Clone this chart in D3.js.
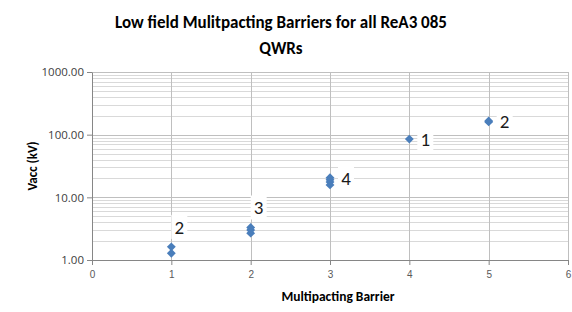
<!DOCTYPE html>
<html>
<head>
<meta charset="utf-8">
<script src="https://cdn.jsdelivr.net/npm/d3@7"></script>
<style>
  body { margin: 0; background: #fff; }
  svg { display: block; font-family: Carlito, Lato, "Open Sans", sans-serif; }
  .grid line { stroke: #d9d9d9; stroke-width: 1; }
  .grid line.major { stroke: #bfbfbf; }
  .axis path, .axis line { stroke: #868686; }
  .axis text { fill: #404040; }
  .x-axis text { font-size: 10px; fill: #595959; }
  .y-axis text { font-size: 12px; font-family: "Open Sans", sans-serif; font-size: 11.5px; }
</style>
</head>
<body>
<svg id="chart" width="572" height="312"></svg>
<script>
// Data
const barrier = [1, 1, 2, 2, 2, 3, 3, 3, 3, 4, 5, 5];
const vacc = [1.28, 1.62, 2.68, 3.0, 3.3, 15.8, 17.5, 19.0, 20.6, 85, 160, 165];
const labelBarrier = [1, 2, 3, 4, 5];
const labelCount = ['2', '3', '4', '1', '2'];
const labelPos = ['above', 'above', 'right', 'right', 'right'];
const xTicks = [0, 1, 2, 3, 4, 5, 6];
const yTicks = [1, 10, 100, 1000];

const svg = d3.select('#chart');
const margin = { top: 72, right: 4, bottom: 52, left: 92 };
const width = 572 - margin.left - margin.right,
    height = 312 - margin.top - margin.bottom;

const x = d3.scaleLinear().domain([0, 6]).range([0, width]);
const y = d3.scaleLog().domain([1, 1000]).range([height, 0]);

const g = svg.append('g').attr('transform', 'translate(' + margin.left + ',' + margin.top + ')');

// Minor horizontal grid
const minor = [];
[1, 10, 100].forEach(d => { for (let k = 2; k <= 9; k++) minor.push(d * k); });
const grid = g.append('g').attr('class', 'grid');
grid.selectAll('line.minor').data(minor).enter().append('line')
    .attr('class', 'minor')
    .attr('x1', 0).attr('x2', width)
    .attr('y1', d => Math.round(y(d)) + 0.5).attr('y2', d => Math.round(y(d)) + 0.5);
grid.selectAll('line.hmajor').data(yTicks.slice(1)).enter().append('line')
    .attr('class', 'major hmajor')
    .attr('x1', 0).attr('x2', width)
    .attr('y1', d => Math.round(y(d)) + 0.5).attr('y2', d => Math.round(y(d)) + 0.5);
grid.selectAll('line.vmajor').data(xTicks.slice(1)).enter().append('line')
    .attr('class', 'major vmajor')
    .attr('y1', 0).attr('y2', height)
    .attr('x1', d => Math.round(x(d)) + 0.5).attr('x2', d => Math.round(x(d)) + 0.5);

// Axes
g.append('g').attr('class', 'axis x-axis')
    .attr('transform', 'translate(0,' + height + ')')
    .call(d3.axisBottom(x).tickValues(xTicks).tickFormat(d3.format('d')).tickSizeInner(5).tickSizeOuter(0).tickPadding(6));
g.append('g').attr('class', 'axis y-axis')
    .call(d3.axisLeft(y).tickValues(yTicks).tickFormat(d3.format('.2f')).tickSizeInner(5).tickSizeOuter(0).tickPadding(3));

// Points
const pts = barrier.map((b, i) => ({ x: b, y: vacc[i] }));
g.selectAll('path.pt').data(pts).enter().append('path')
    .attr('class', 'pt')
    .attr('d', d3.symbol().type(d3.symbolDiamond2).size(50))
    .attr('fill', '#4a7ebb')
    .attr('transform', d => 'translate(' + x(d.x) + ',' + y(d.y) + ')');

// Data labels
labelBarrier.forEach((b, i) => {
    const top = d3.max(pts.filter(p => p.x === b), p => p.y);
    const px = x(b), py = y(top);
    const lx = labelPos[i] === 'above' ? px + 8 : px + 16,
        ly = labelPos[i] === 'above' ? py - 20 : py;
    g.append('rect')
        .attr('x', lx - 8).attr('y', ly - 12).attr('width', 16).attr('height', 24)
        .attr('fill', '#fff');
    g.append('text')
        .attr('x', lx).attr('y', ly).attr('dy', '0.36em')
        .attr('text-anchor', 'middle')
        .attr('font-size', 19).attr('fill', '#1a1a1a')
        .text(labelCount[i]);
});

// Titles
svg.append('text').attr('x', 281).attr('y', 28).attr('text-anchor', 'middle')
    .attr('font-size', 17).attr('font-weight', 'bold').attr('fill', '#000')
    .text('Low field Mulitpacting Barriers for all ReA3 085');
svg.append('text').attr('x', 281).attr('y', 54).attr('text-anchor', 'middle')
    .attr('font-size', 17).attr('font-weight', 'bold').attr('fill', '#000')
    .text('QWRs');
svg.append('text').attr('x', margin.left + width / 2 + 8).attr('y', 301).attr('text-anchor', 'middle')
    .attr('font-size', 13.5).attr('font-weight', 'bold').attr('fill', '#000')
    .text('Multipacting Barrier');
svg.append('text')
    .attr('transform', 'translate(37,' + (margin.top + height / 2) + ') rotate(-90)')
    .attr('text-anchor', 'middle')
    .attr('font-size', 13).attr('font-weight', 'bold').attr('fill', '#000')
    .text('Vacc (kV)');
</script>
</body>
</html>
